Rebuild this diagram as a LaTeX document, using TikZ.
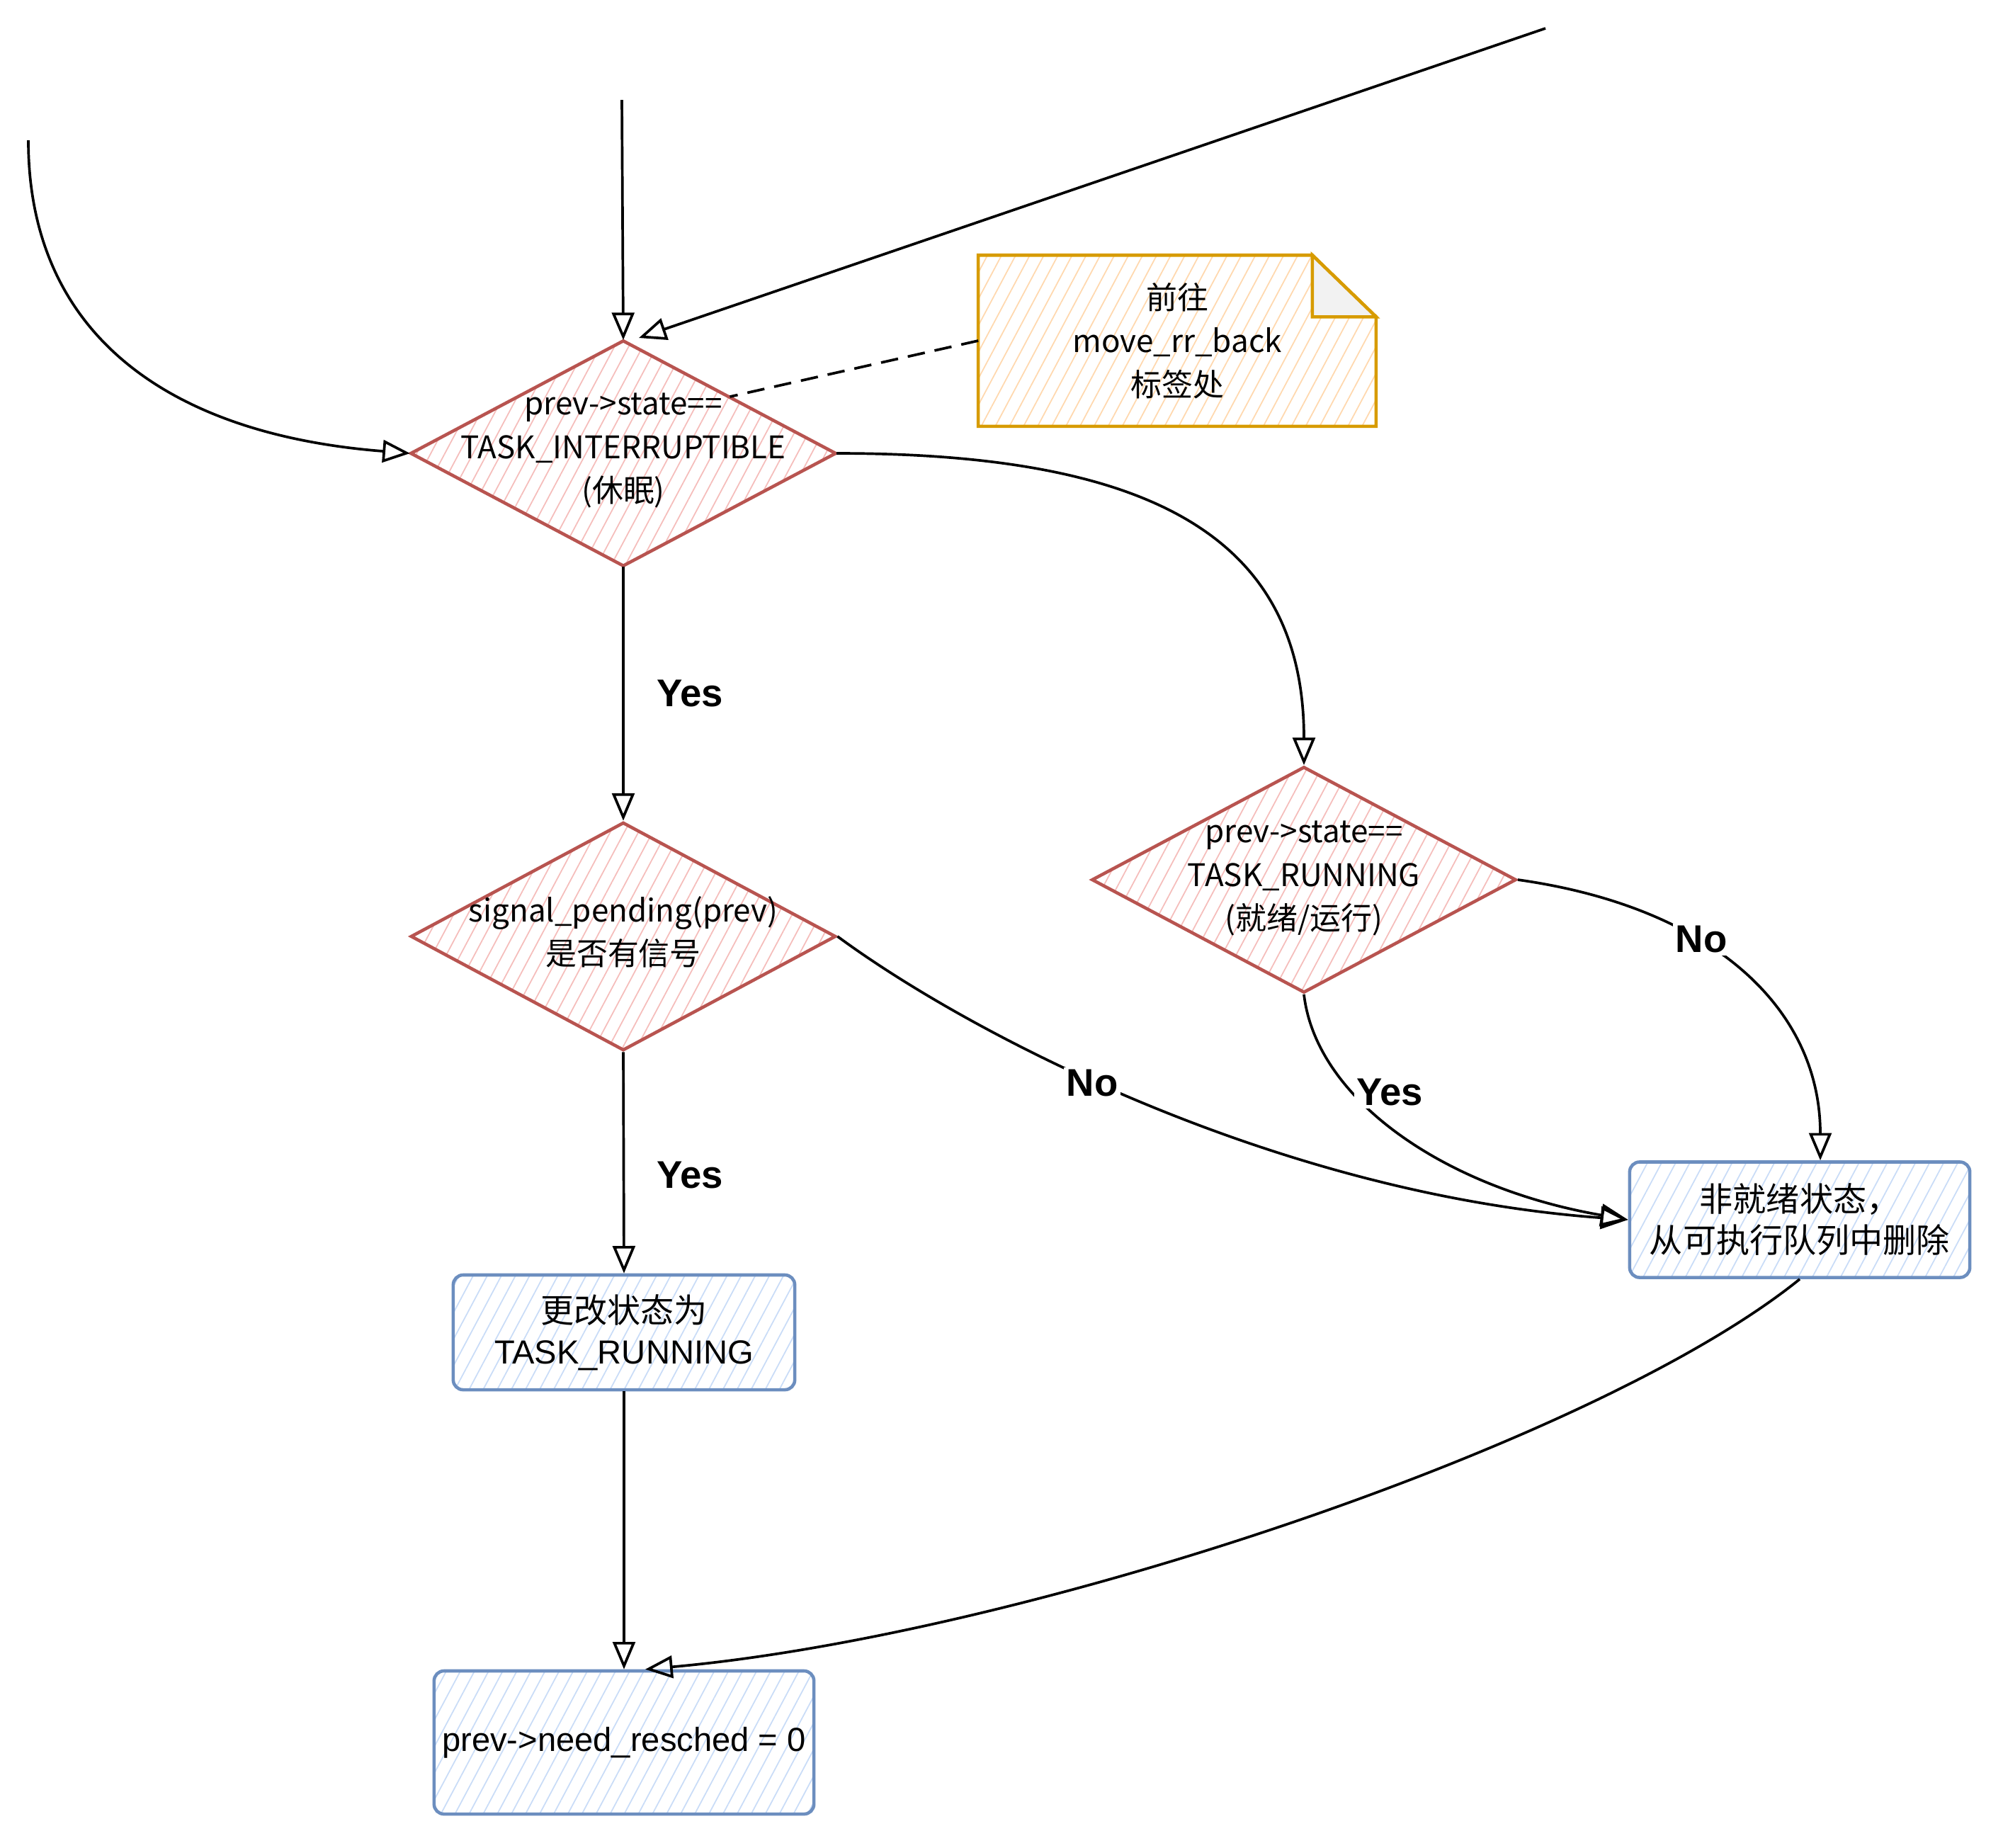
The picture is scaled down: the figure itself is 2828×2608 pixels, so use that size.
\documentclass[tikz,border=0pt]{standalone}
\usepackage{fontspec}
\setmainfont{Liberation Sans}
\newfontfamily\cjk{Noto Sans CJK SC}
\usetikzlibrary{arrows.meta,shapes.geometric,patterns.meta}
\definecolor{dred}{HTML}{B85450}
\definecolor{dhatch}{HTML}{F5BDBB}
\definecolor{bblue}{HTML}{6C8EBF}
\definecolor{bhatch}{HTML}{C9DCF7}
\definecolor{nor}{HTML}{D79B00}
\definecolor{nhatch}{HTML}{FFD8AE}
\tikzset{
  dia/.style={shape=diamond, draw=dred, line width=1.3pt,
    pattern={Lines[angle=62,distance=5pt,line width=0.5pt]}, pattern color=dhatch,
    minimum width=6cm, minimum height=3.18cm, inner sep=0pt},
  dtext/.style={align=center, font=\cjk\fontsize{12.5}{17.4}\selectfont, inner sep=0pt},
  box/.style={draw=bblue, line width=1.3pt, rounded corners=4pt,
    pattern={Lines[angle=62,distance=5pt,line width=0.5pt]}, pattern color=bhatch,
    align=center, font=\fontsize{13.4}{16.5}\selectfont, inner sep=0pt},
  arr/.style={draw=black, line width=1.05pt, -{Triangle[open,length=11pt,width=9pt,line width=1.05pt]}},
  lbl/.style={font=\bfseries\fontsize{15.5}{18}\selectfont, inner sep=1pt},
}
\begin{document}
\begin{tikzpicture}[x=0.01cm,y=-0.01cm]
\useasboundingbox (0,0) rectangle (2828,2608);

% decision nodes
\node[dia] (d1) at (880,640) {};
\node[dtext] (d1t) at (880,636) {prev->state==\\TASK\_INTERRUPTIBLE\\(休眠)};
\node[dia, minimum height=3.22cm] (d2) at (880,1322) {};
\node[dtext] (d2t) at (880,1316) {signal\_pending(prev)\\是否有信号};
\node[dia, minimum width=5.99cm, minimum height=3.19cm] (d3) at (1841,1242) {};
\node[dtext] (d3t) at (1841,1240) {prev->state==\\TASK\_RUNNING\\(就绪/运行)};

% process boxes
\node[box, minimum width=4.82cm, minimum height=1.62cm] (b1) at (881,1881) {{\cjk 更改状态为}\\TASK\_RUNNING};
\node[box, minimum width=4.80cm, minimum height=1.63cm] (b2) at (2541,1722) {{\cjk 非就绪状态，}\\{\cjk 从可执行队列中删除}};
\node[box, minimum width=5.36cm, minimum height=2.02cm] (b3) at (881,2460) {prev->need\_resched = 0};

% note
\node[draw=none, minimum width=5.6cm, minimum height=2.4cm, align=center,
      font=\cjk\fontsize{12.5}{17.4}\selectfont, inner sep=0pt] (note) at (1662,481) {};
\draw[draw=nor, line width=1.3pt, pattern={Lines[angle=62,distance=5pt,line width=0.5pt]}, pattern color=nhatch]
  (note.south west) -- (note.north west) -- ([xshift=-0.9cm]note.north east)
  -- ([yshift=-0.87cm]note.north east) -- (note.south east) -- cycle;
\draw[draw=nor, line width=1.3pt, fill=black!5]
  ([xshift=-0.9cm]note.north east) -- ([xshift=-0.9cm,yshift=-0.87cm]note.north east)
  -- ([yshift=-0.87cm]note.north east) -- cycle;
\node[align=center, font=\cjk\fontsize{12.5}{17.4}\selectfont, inner sep=0pt] (notet) at (1662,481) {前往\\move\_rr\_back\\标签处};

% free ends
\coordinate (sA) at (40,198);
\coordinate (sB) at (878,141);
\coordinate (sC) at (2182,40);

% connectors
\draw[arr] (sA) .. controls (40,469) and (234,613) .. (d1.west);
\draw[arr] (sB) -- (d1.north);
\draw[arr] (sC) -- ([xshift=0.22cm,yshift=0.03cm]d1.north);
\draw[line width=1.05pt, dash pattern=on 7pt off 4pt] (note.west) -- (d1.north east);

\draw[arr] (d1.south) -- (d2.north);
\node[lbl] (y1) at (974,979) {Yes};
\draw[arr] (d1.east) .. controls (1623,640) and (1841,757) .. (d3.north);

\draw[arr] (d2.south) -- (b1.north);
\node[lbl] (y2) at (974,1659) {Yes};
\draw[arr] (d2.east) .. controls (1371,1461) and (1804,1686) .. (b2.west);
\node[lbl, fill=white] (n1) at (1542,1529) {No};

\draw[arr] (d3.south) .. controls (1858,1551) and (2038,1677) .. (b2.west);
\node[lbl, fill=white] (y3) at (1962,1542) {Yes};
\draw[arr] (d3.east) .. controls (2420,1281) and (2570,1425) .. ([xshift=0.29cm]b2.north);
\node[lbl, fill=white] (n2) at (2402,1326) {No};

\draw[arr] (b1.south) -- (b3.north);
\draw[arr] (b2.south) .. controls (2254,2038) and (1443,2309) .. ([xshift=0.3cm]b3.north);
\end{tikzpicture}
\end{document}
